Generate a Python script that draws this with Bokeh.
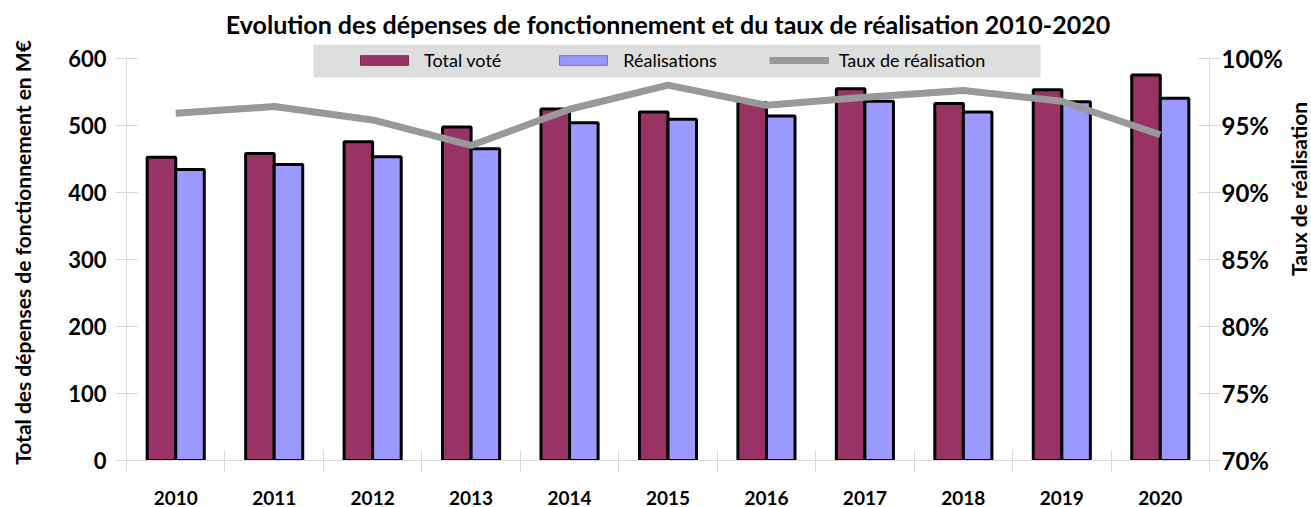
import numpy as np
from bokeh.plotting import figure
from bokeh.layouts import row
from bokeh.models import (Range1d, LinearAxis, FixedTicker, PrintfTickFormatter,
                          ColumnDataSource, Legend, LegendItem, BoxAnnotation)
from bokeh.core.properties import value
from bokeh.transform import dodge
from bokeh.embed import file_html
from bokeh.resources import INLINE

# ---- data ----
years = ["2010", "2011", "2012", "2013", "2014", "2015", "2016", "2017", "2018", "2019", "2020"]
total_vote = [452.5, 458, 475.5, 497.5, 524.5, 520, 534, 554.5, 532.5, 553, 575]
realisations = [434, 441.5, 453, 465, 504, 509, 514, 536, 520, 535, 540.5]
taux = [95.9, 96.4, 95.4, 93.5, 96.2, 98.0, 96.5, 97.1, 97.6, 96.8, 94.3]
left_ticks = [0, 100, 200, 300, 400, 500, 600]
right_ticks = [70, 75, 80, 85, 90, 95, 100]
title_text = "Evolution des dépenses de fonctionnement et du taux de réalisation 2010-2020"
left_label = "Total des dépenses de fonctionnement en M€"
right_label = "Taux de réalisation"
series_labels = ["Total voté", "Réalisations", "Taux de réalisation"]

FONT = "Lato"
RED = "#993366"
BLUE = "#9999ff"
GREY_LINE = "#999999"
AXIS_GREY = "#d9d9d9"
LEG_BG = "#dedede"

# frame extends 14px above the 600 / 100% tick so the legend box fits inside it
EXTRA = 422 / 408
centers = np.arange(len(years)) + 0.5
bounds = list(np.arange(len(years) + 1).astype(float))
src = ColumnDataSource(dict(x=centers, year=years, total=total_vote,
                            real=realisations, taux=taux,
                            base=np.zeros(len(years))))

MAIN_W = 1285
p = figure(width=MAIN_W, height=507, output_backend="svg", toolbar_location=None,
           x_range=Range1d(0, len(years)), y_range=Range1d(0, 600 * EXTRA),
           min_border_left=126, min_border_right=MAIN_W - 1219, min_border_top=44,
           min_border_bottom=41)
p.outline_line_color = None
p.xgrid.visible = False
p.ygrid.visible = False
p.background_fill_color = "white"

p.title.text = title_text
p.title.align = "center"
p.title.text_font = FONT
p.title.text_font_size = "25px"
p.title.text_font_style = "bold"
p.title.text_color = "black"
p.title.standoff = 11

p.extra_y_ranges = {"taux": Range1d(70, 70 + 30 * EXTRA)}

BW = 0.29
r_total = p.vbar(x=dodge("x", -BW / 2), top="total", width=BW, source=src,
                 fill_color=RED, line_color="black", line_width=3)
r_real = p.vbar(x=dodge("x", BW / 2), top="real", width=BW, source=src,
                fill_color=BLUE, line_color="black", line_width=3)
r_line = p.line(x="x", y="taux", source=src, y_range_name="taux",
                line_color=GREY_LINE, line_width=7)

# legend swatches: zero-height bars (hidden under the bars' bottom edge) with thin borders
leg_total = p.vbar(x=dodge("x", -BW / 2), top="base", width=BW, source=src,
                   fill_color=RED, line_color="#7a2850", line_width=1)
leg_real = p.vbar(x=dodge("x", BW / 2), top="base", width=BW, source=src,
                  fill_color=BLUE, line_color="#6f6fcc", line_width=1)
for r in (leg_total, leg_real):
    r.level = "underlay"

# x axis
xa = p.xaxis[0]
xa.ticker = FixedTicker(ticks=list(centers), minor_ticks=bounds)
xa.major_label_overrides = {float(c): y for c, y in zip(centers, years)}
xa.major_tick_in = 0
xa.major_tick_out = 0
xa.minor_tick_in = 10
xa.minor_tick_out = 12
xa.minor_tick_line_color = AXIS_GREY
xa.axis_line_color = AXIS_GREY
xa.major_label_text_font = FONT
xa.major_label_text_font_size = "19px"
xa.major_label_text_font_style = "bold"
xa.major_label_text_color = "black"
xa.major_label_standoff = 18

# left axis
ya = p.yaxis[0]
ya.ticker = FixedTicker(ticks=left_ticks)
ya.bounds = (0, 600)
ya.major_tick_in = 11
ya.major_tick_out = 11
ya.minor_tick_line_color = None
ya.major_tick_line_color = AXIS_GREY
ya.axis_line_color = AXIS_GREY
ya.major_label_text_font = FONT
ya.major_label_text_font_size = "22px"
ya.major_label_text_font_style = "bold"
ya.major_label_text_color = "black"
ya.major_label_standoff = 9
ya.axis_label = left_label
ya.axis_label_text_font = FONT
ya.axis_label_text_font_size = "21px"
ya.axis_label_text_font_style = "bold"
ya.axis_label_text_color = "black"
ya.axis_label_standoff = 30

# right axis
ra = LinearAxis(y_range_name="taux", ticker=FixedTicker(ticks=right_ticks),
                formatter=PrintfTickFormatter(format="%d%%"), bounds=(70, 100))
ra.major_tick_in = 11
ra.major_tick_out = 11
ra.minor_tick_line_color = None
ra.major_tick_line_color = AXIS_GREY
ra.axis_line_color = AXIS_GREY
ra.major_label_text_font = FONT
ra.major_label_text_font_size = "24px"
ra.major_label_text_font_style = "bold"
ra.major_label_text_color = "black"
ra.major_label_standoff = 1
p.add_layout(ra, "right")

# legend background box
p.add_layout(BoxAnnotation(left=313, right=1040, top=44, bottom=77,
                           left_units="canvas", right_units="canvas",
                           top_units="canvas", bottom_units="canvas",
                           fill_color=LEG_BG, fill_alpha=1.0, line_color=None))

legend = Legend(items=[LegendItem(label=series_labels[0], renderers=[leg_total]),
                       LegendItem(label=series_labels[1], renderers=[leg_real]),
                       LegendItem(label=series_labels[2], renderers=[r_line])],
                orientation="horizontal", location=(228, 389),
                glyph_width=60, glyph_height=12, label_height=20,
                label_standoff=10, spacing=52, padding=6,
                label_text_font=FONT, label_text_font_size="18px",
                label_text_color="black",
                background_fill_color=LEG_BG, background_fill_alpha=1.0,
                border_line_color=None)
p.add_layout(legend, "center")

# narrow strip on the right holding the secondary axis title (reads bottom-to-top)
STRIP_W = 1311 - MAIN_W
p2 = figure(width=STRIP_W, height=507, output_backend="svg", toolbar_location=None,
            x_range=Range1d(0, 1), y_range=Range1d(0, 507),
            min_border=0, min_border_left=0, min_border_right=0,
            min_border_top=0, min_border_bottom=0)
p2.axis.visible = False
p2.grid.visible = False
p2.outline_line_color = None
p2.text(x=[0.5], y=[331], text=[right_label], angle=np.pi / 2,
        text_align="center", text_baseline="middle",
        text_font=value(FONT), text_font_size="21px", text_font_style="bold",
        text_color="black")

layout = row(p, p2, spacing=0)
open("out.html", "w").write(file_html(layout, INLINE))
